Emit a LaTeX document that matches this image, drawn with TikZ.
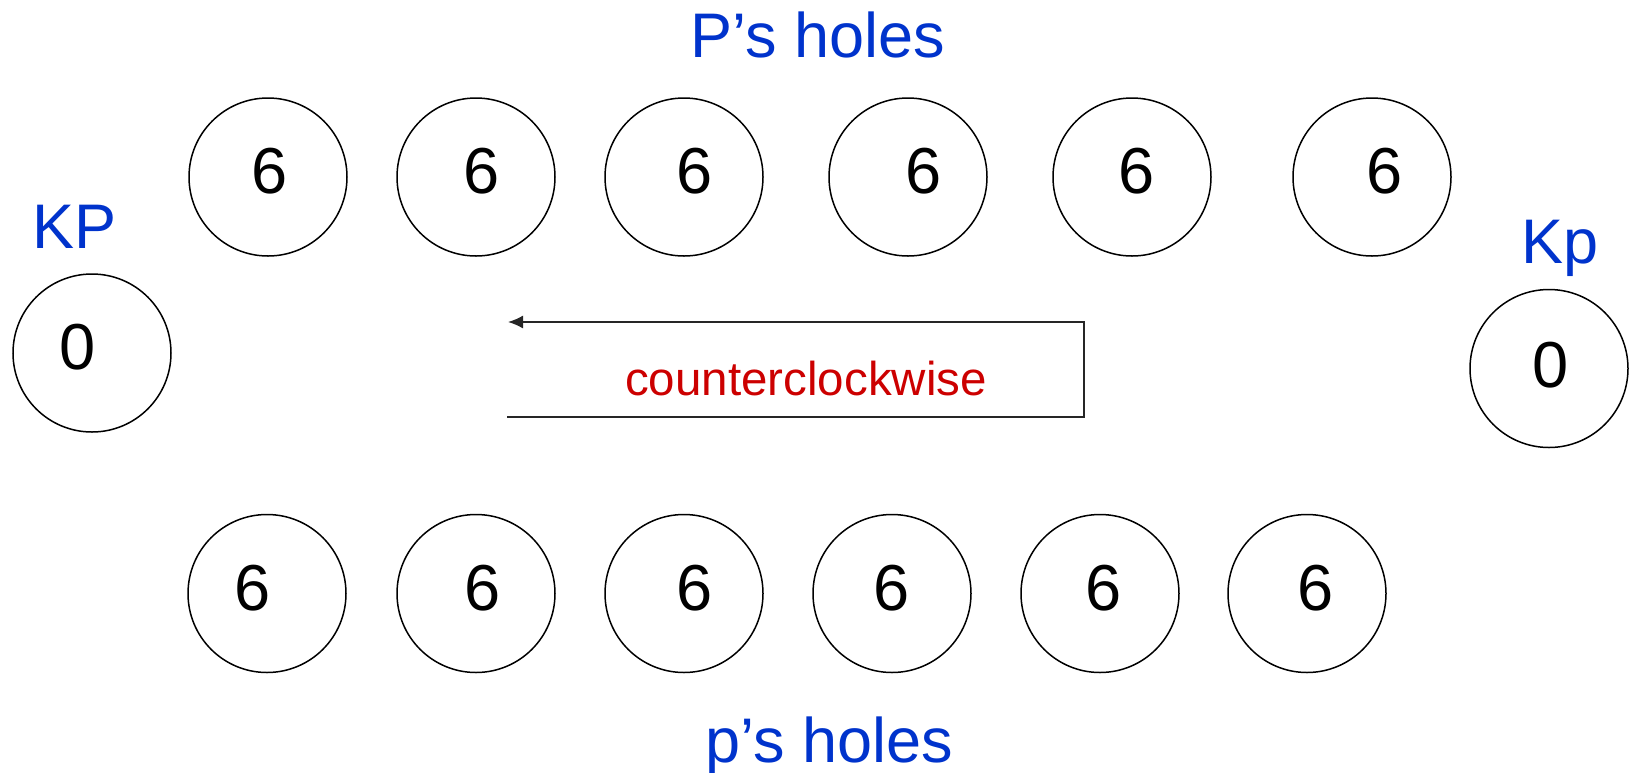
\documentclass[tikz,border=0pt]{standalone}
\usepackage{fontspec}
\setmainfont{Liberation Sans}
\usetikzlibrary{arrows.meta}
\definecolor{hblue}{RGB}{0,51,204}
\definecolor{hred}{RGB}{204,0,0}
\begin{document}
\begin{tikzpicture}[x=1pt,y=-1pt,
  hole/.style={draw=black,line width=1.5pt,circle,minimum size=158pt,inner sep=0pt},
  num/.style={font=\fontsize{65}{70}\selectfont,inner sep=0pt,anchor=base},
  lbl/.style={font=\fontsize{63}{70}\selectfont,text=hblue,inner sep=0pt,anchor=base},
  dirline/.style={draw=black!85,line width=1.6pt},
]
\useasboundingbox (0,0) rectangle (1634,772);
% P's holes (top row)
\foreach \i/\cx/\dx in {1/268/269.5,2/476/482,3/684/695,4/908/924,5/1132/1137,6/1372/1385}{
  \node[hole] (T\i) at (\cx,177) {};
  \node[num] (TN\i) at (\dx,193) {6};
}
% p's holes (bottom row)
\foreach \i/\cx/\dx in {1/267/253,2/476/483,3/684/695,4/892/892,5/1100/1104,6/1307/1316}{
  \node[hole] (B\i) at (\cx,593.5) {};
  \node[num] (BN\i) at (\dx,610) {6};
}
% Kalahs
\node[hole] (KPc) at (92,353) {};
\node[num] (KPn) at (78,369) {0};
\node[hole] (Kpc) at (1549,368.5) {};
\node[num] (Kpn) at (1551,387) {0};
% labels
\node[lbl] (Ptitle) at (818,57) {P’s holes};
\node[lbl] (ptitle) at (829,762) {p’s holes};
\node[lbl] (KPl) at (74.5,248) {KP};
\node[lbl] (Kpl) at (1560,263) {Kp};
% direction arrow
\coordinate (a1) at (507,417);
\coordinate (a2) at (1084,417);
\coordinate (a3) at (1084,322);
\coordinate (a4) at (508,322);
\draw[dirline,-{Latex[length=15pt,width=13pt]}] (a1) -- (a2) -- (a3) -- (a4);
\node[font=\fontsize{47.5}{52}\selectfont,text=hred,inner sep=0pt,anchor=base] (ccw) at (806,395) {counterclockwise};
\end{tikzpicture}
\end{document}
